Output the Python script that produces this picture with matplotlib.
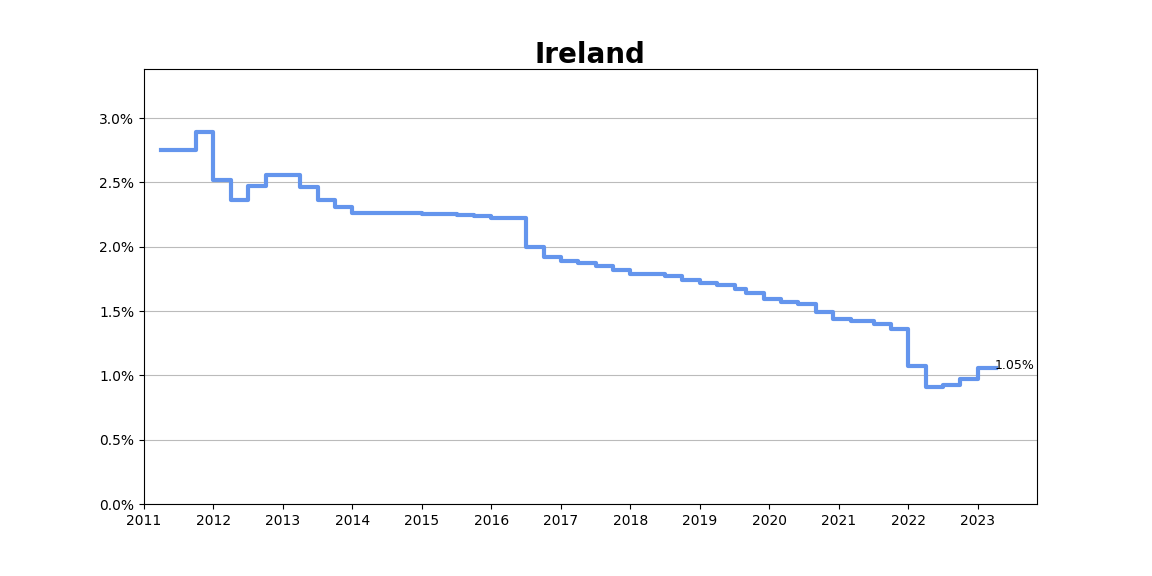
import matplotlib
matplotlib.use("Agg")
import matplotlib.pyplot as plt
from matplotlib.ticker import FuncFormatter

# decimal years where the rate changes, and the rate (%) from that point on
dates = [2011.25, 2011.75, 2012.0, 2012.25, 2012.5, 2012.75, 2013.25, 2013.5,
         2013.75, 2014.0, 2015.0, 2015.5, 2015.75, 2016.0, 2016.5, 2016.75,
         2017.0, 2017.25, 2017.5, 2017.75, 2018.0, 2018.5, 2018.75, 2019.0,
         2019.25, 2019.5, 2019.67, 2019.92, 2020.17, 2020.42, 2020.67, 2020.92,
         2021.17, 2021.5, 2021.75, 2022.0, 2022.25, 2022.5, 2022.75, 2023.0,
         2023.26]
rates = [2.75, 2.89, 2.52, 2.36, 2.47, 2.56, 2.46, 2.36,
         2.31, 2.265, 2.256, 2.248, 2.236, 2.225, 1.995, 1.922,
         1.886, 1.875, 1.847, 1.816, 1.79, 1.77, 1.743, 1.714,
         1.705, 1.673, 1.642, 1.596, 1.572, 1.552, 1.495, 1.44,
         1.42, 1.397, 1.362, 1.072, 0.907, 0.925, 0.969, 1.054,
         1.054]
years = list(range(2011, 2024))

fig = plt.figure(figsize=(11.52, 5.76), dpi=100)
ax = fig.add_axes([0.125, 0.125, 0.775, 0.755])

ax.plot(dates, rates, drawstyle="steps-post", color="cornflowerblue", linewidth=3)
ax.annotate(f"{rates[-1]:.2f}%", (dates[-1], rates[-1]), xytext=(-1, 2),
            textcoords="offset points", ha="left", va="center", fontsize=9)

ax.set_xlim(2011, 2023.85)
ax.set_ylim(0, 3.38)
ax.set_xticks(years)
ax.set_xticklabels([str(y) for y in years])
ax.set_yticks([0, 0.5, 1.0, 1.5, 2.0, 2.5, 3.0])
ax.yaxis.set_major_formatter(FuncFormatter(lambda v, p: f"{v:.1f}%"))
ax.grid(axis="y", color="#bbbbbb", linewidth=0.8)
ax.set_axisbelow(True)
ax.set_title("Ireland", fontsize=20, fontweight="bold", pad=4)

fig.savefig("out.png", dpi=100)
